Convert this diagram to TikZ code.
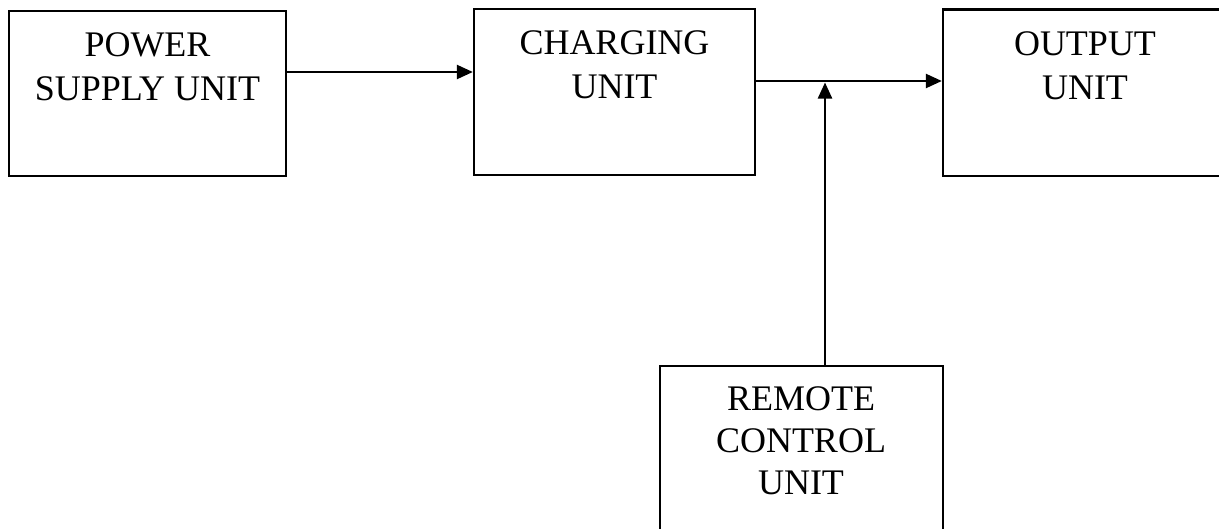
\documentclass[tikz,border=0pt]{standalone}
\usepackage{fontspec}
\setmainfont{Liberation Serif}
\usetikzlibrary{arrows.meta}
\begin{document}
\begin{tikzpicture}[x=1pt,y=-1pt,
  box/.style={draw=black, line width=2.3pt, rectangle, inner sep=0pt},
  lbl/.style={anchor=north, inner sep=0pt, align=center,
    font=\fontsize{36pt}{44pt}\selectfont, text=black},
  conn/.style={draw=black, line width=2.3pt,
    -{Triangle[length=16pt,width=14pt]}}]
\useasboundingbox[fill=white] (0,0) rectangle (1219,528);
% boxes
\node[box, minimum width=277pt, minimum height=165pt] (psu) at (147.5,93.5) {};
\node[box, minimum width=281pt, minimum height=166pt] (chg) at (614.5,92) {};
\node[box, minimum width=285pt, minimum height=166.5pt] (out) at (1085.5,92.75) {};
\node[box, minimum width=283pt, minimum height=174pt] (rcu) at (801.5,453) {};
% labels
\node[lbl] (psut) at (147.5,32.5) {POWER\\SUPPLY UNIT};
\node[lbl] (chgt) at (614.5,30) {CHARGING\\UNIT};
\node[lbl] (outt) at (1085,31) {OUTPUT\\UNIT};
\node[lbl] (rcut) at (801,386) {REMOTE\\[-2pt]CONTROL\\[-2pt]UNIT};
% connector levels
\coordinate (l1) at (0,72);
\coordinate (l2) at (0,81);
\coordinate (jn) at (825,82.5);
% connectors
\draw[conn] (psu.east |- l1) -- (chg.west |- l1);
\draw[conn] (chg.east |- l2) -- (out.west |- l2);
\draw[conn] (rcu.north -| jn) -- (jn);
\end{tikzpicture}
\end{document}
